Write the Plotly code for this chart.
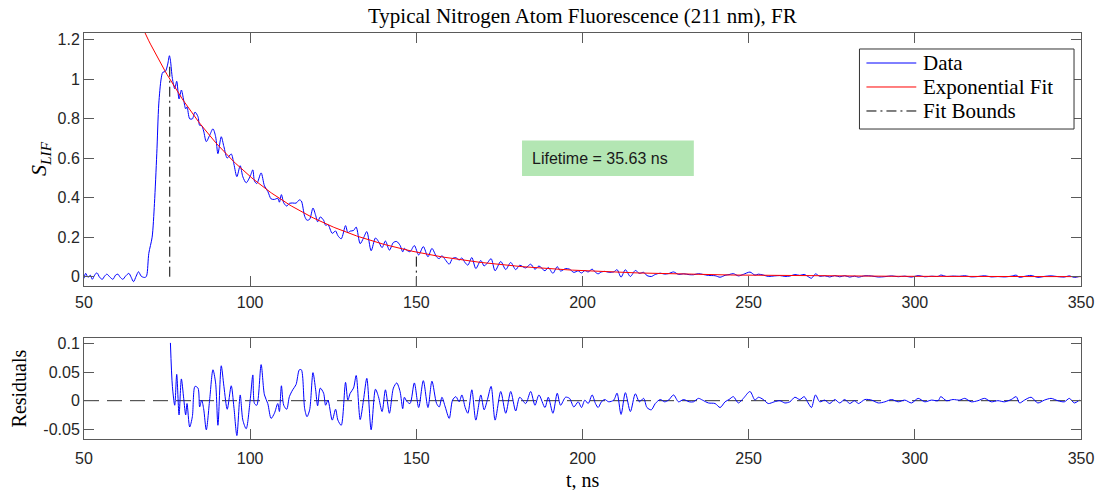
import plotly.graph_objects as go

# ---- signal before the fit window (ns, normalised LIF signal) ----
pre_t = [50.0, 50.5, 51.2, 51.9, 52.5, 53.2, 53.9, 54.7, 55.5, 56.2, 56.9, 57.7,
         58.7, 59.5, 60.2, 60.9, 61.7, 62.5, 63.5, 64.2, 64.9, 65.7, 66.4, 67.2,
         67.9, 68.5, 68.9, 69.5, 70.5, 71.2, 71.9, 72.5, 73.2, 73.7, 74.5, 75.2, 75.7]
pre_s = [-0.008, 0.017, -0.003, 0.008, -0.013, 0.008, 0.020, -0.003, -0.013, 0.003,
         0.013, 0.000, -0.013, 0.008, 0.013, -0.003, -0.013, 0.003, 0.017, -0.003,
         -0.025, 0.003, 0.025, 0.003, -0.003, -0.003, 0.008, 0.118, 0.200, 0.370,
         0.622, 0.874, 1.000, 1.034, 1.039, 1.076, 1.118]

# ---- residuals (data - fit) inside the fit window ----
res_t = [76.0, 76.6, 77.3, 77.9, 78.6, 79.3, 80.0, 80.6, 81.0, 81.8, 82.6, 83.4, 84.3,
         84.8, 85.4, 86.0, 86.8, 87.8, 88.8, 89.6, 90.3, 91.3, 92.1, 93.1, 94.3, 95.1,
         96.0, 97.0, 97.8, 98.8, 100.0, 100.8, 101.3, 102.0, 103.3, 104.3, 105.3, 106.3,
         107.3, 108.3, 108.8, 109.4, 110.1, 111.0, 111.8, 112.8, 113.8, 114.8, 115.4,
         116.4, 117.1, 117.9, 118.9, 119.7, 120.3, 121.1, 122.1, 122.7, 123.4, 124.7,
         125.7, 126.4, 127.4, 128.7, 129.4, 130.1, 131.1, 131.9, 133.1, 134.1, 135.1,
         136.4, 137.7, 138.6, 139.7, 140.7, 141.9, 143.1, 144.1, 145.1, 145.9, 146.4,
         147.1, 148.1, 149.4, 150.7, 152.1, 153.5, 154.7, 156.1, 156.9, 157.7, 158.7,
         159.9, 160.9, 161.9, 162.9, 163.7, 164.7, 165.5, 166.7, 167.9, 169.4, 170.4,
         171.4, 172.5, 173.7, 175.4, 176.9, 178.4, 179.9, 181.1, 182.9, 184.4, 185.7,
         186.9, 188.7, 189.7, 191.1, 192.4, 193.4, 194.9, 196.1, 197.4, 198.7, 199.7,
         200.7, 201.7, 202.9, 203.9, 204.7, 205.7, 206.7, 207.9, 209.4, 210.4, 211.6,
         212.9, 214.4, 215.9, 217.1, 218.4, 219.4, 220.7, 221.9, 223.4, 224.7, 225.9,
         227.4, 228.9, 230.4, 232.1, 233.4, 234.9, 236.1, 237.9, 239.9, 241.4, 242.9,
         244.1, 245.4, 246.9, 248.4, 250.4, 251.9, 252.9, 254.4, 255.9, 257.7, 259.4,
         260.9, 262.4, 263.9, 265.4, 266.7, 267.9, 268.9, 270.1, 271.4, 272.9, 274.4,
         275.9, 277.4, 278.9, 280.4, 281.9, 283.0, 285.0, 287.0, 289.0, 291.0, 293.0,
         295.0, 297.0, 299.0, 301.0, 303.0, 305.0, 307.0, 307.8, 309.5, 311.5, 313.5,
         315.0, 317.0, 319.0, 321.0, 323.0, 325.0, 327.0, 329.0, 330.5, 331.5, 333.0,
         335.0, 337.0, 339.0, 341.0, 343.0, 345.0, 346.5, 348.0, 349.5]
res_v = [0.101, 0.025, -0.008, 0.046, -0.025, 0.038, 0.004, -0.025, -0.005, -0.046,
         -0.028, 0.025, 0.022, -0.011, 0.001, -0.014, -0.051, 0.001, 0.054, 0.031,
         -0.043, 0.061, 0.025, -0.015, 0.026, -0.011, -0.061, 0.010, -0.034, -0.049,
         0.001, 0.045, -0.005, -0.008, 0.063, 0.010, -0.005, -0.031, -0.022, -0.005,
         -0.019, 0.026, -0.008, -0.015, 0.007, 0.019, 0.028, 0.054, 0.054, -0.014,
         -0.028, -0.016, 0.049, 0.019, -0.009, 0.022, 0.013, -0.008, 0.001, -0.034,
         -0.015, -0.034, -0.043, 0.032, 0.001, 0.013, 0.022, 0.044, -0.033, 0.001,
         0.039, -0.051, 0.020, 0.007, -0.019, 0.019, -0.022, 0.022, 0.031, 0.016,
         -0.014, 0.006, -0.001, -0.005, 0.031, -0.012, 0.035, -0.012, 0.034, -0.005,
         -0.011, 0.006, -0.011, -0.031, 0.001, 0.007, -0.002, 0.010, -0.012, -0.022,
         0.019, -0.034, 0.010, -0.016, 0.002, 0.025, -0.034, 0.016, -0.022, 0.016,
         -0.018, 0.006, -0.005, 0.016, -0.008, 0.010, -0.012, 0.006, -0.022, 0.013,
         -0.008, 0.006, 0.004, -0.011, -0.002, -0.012, 0.001, -0.005, 0.010, -0.005,
         -0.012, -0.002, 0.002, -0.002, 0.001, 0.013, -0.024, 0.014, -0.019, 0.012,
         -0.002, 0.004, -0.012, -0.016, -0.005, 0.002, -0.002, 0.001, 0.010, -0.002,
         0.002, -0.002, -0.002, 0.004, 0.001, -0.004, -0.005, -0.012, -0.002, 0.002,
         0.007, -0.004, 0.004, 0.016, 0.001, 0.006, 0.002, -0.005, -0.002, 0.000,
         -0.004, -0.002, 0.006, 0.002, 0.007, -0.004, -0.012, 0.010, -0.002, 0.001,
         -0.005, 0.002, -0.004, 0.002, -0.005, 0.000, -0.005, 0.002, 0.001, -0.004,
         -0.002, 0.002, -0.002, 0.001, -0.004, 0.004, -0.002, 0.001, 0.000, 0.007,
         0.000, 0.002, 0.001, 0.004, -0.002, 0.000, 0.004, -0.002, 0.000, -0.002,
         0.002, 0.007, -0.004, 0.001, 0.006, -0.004, 0.001, 0.004, 0.000, -0.002,
         0.004, -0.004, 0.001]

# ---- single-exponential fit parameters ----
fit_amplitude = 1.0      # signal at fit start
fit_t0 = 75.8            # ns, start of fit window
lifetime = 35.63         # ns
fit_t = [50 + 0.5 * i for i in range(601)]

# fit window markers: position and vertical extent
bound_t = [75.8, 150.0]
bound_lo = [0.0, -0.05]
bound_hi = [1.08, 0.12]

x_ticks = [50, 100, 150, 200, 250, 300, 350]
y_ticks = [0, 0.2, 0.4, 0.6, 0.8, 1.0, 1.2]
y_ticklabels = ["0", "0.2", "0.4", "0.6", "0.8", "1", "1.2"]
r_ticks = [-0.05, 0, 0.05, 0.1]
r_ticklabels = ["-0.05", "0", "0.05", "0.1"]

legend_labels = ["Data", "Exponential Fit", "Fit Bounds"]


def fit_value(t):
    return fit_amplitude * 2.718281828459045 ** (-(t - fit_t0) / lifetime)


fit_s = [fit_value(t) for t in fit_t]
data_t = pre_t + res_t
data_s = pre_s + [fit_value(t) + r for t, r in zip(res_t, res_v)]

SERIF = "Liberation Serif"
SANS = "Liberation Sans"
AXIS_COL = "#5a5a5a"
TEXT_COL = "#262626"
DATA_COL = "#0000ff"
FIT_COL = "#ff0000"
BOUND_DASH = "10px,4px,2px,4px"

fig = go.Figure()
fig.add_trace(go.Scatter(x=data_t, y=data_s, mode="lines", name=legend_labels[0],
                         line=dict(color=DATA_COL, width=1, shape="spline", smoothing=0.8),
                         xaxis="x", yaxis="y"))
fig.add_trace(go.Scatter(x=fit_t, y=fit_s, mode="lines", name=legend_labels[1],
                         line=dict(color=FIT_COL, width=1), xaxis="x", yaxis="y"))
for bt, lo, hi in zip(bound_t, bound_lo, bound_hi):
    fig.add_trace(go.Scatter(x=[bt, bt], y=[lo, hi], mode="lines", name=legend_labels[2],
                             line=dict(color="#000000", width=1, dash=BOUND_DASH),
                             xaxis="x", yaxis="y"))

# residual panel
fig.add_trace(go.Scatter(x=[50, 350], y=[0, 0], mode="lines",
                         line=dict(color="#333333", width=1, dash="15px,8px"),
                         xaxis="x2", yaxis="y2"))
fig.add_trace(go.Scatter(x=res_t, y=res_v, mode="lines",
                         line=dict(color=DATA_COL, width=1, shape="spline", smoothing=0.8),
                         xaxis="x2", yaxis="y2"))

axis_common = dict(showline=True, linecolor=AXIS_COL, linewidth=1, mirror="ticks",
                   ticks="inside", ticklen=10, tickcolor=AXIS_COL, showgrid=False,
                   zeroline=False, tickfont=dict(family=SANS, size=16, color=TEXT_COL))

fig.update_layout(
    width=1106, height=490,
    margin=dict(l=84, r=23, t=33, b=51),
    plot_bgcolor="white", paper_bgcolor="white",
    showlegend=False,
    xaxis=dict(domain=[0, 1], range=[50, 350], tickvals=x_ticks, anchor="y",
               ticklabelstandoff=2, **axis_common),
    yaxis=dict(domain=[0.3768, 1], range=[-0.047, 1.233], tickvals=y_ticks,
               ticktext=y_ticklabels, anchor="x", **axis_common),
    xaxis2=dict(domain=[0, 1], range=[50, 350], tickvals=x_ticks, anchor="y2",
                ticklabelstandoff=5, **axis_common),
    yaxis2=dict(domain=[0, 0.248], range=[-0.067, 0.109], tickvals=r_ticks,
                ticktext=r_ticklabels, anchor="x2", **axis_common),
)

# legend box with line samples
fig.add_shape(type="rect", xref="paper", yref="paper", x0=0.7778, x1=0.993,
              y0=0.7635, y1=0.9606, fillcolor="white",
              line=dict(color="#333333", width=1), layer="above")
legend_styles = [dict(color=DATA_COL, width=1),
                 dict(color=FIT_COL, width=1),
                 dict(color="#000000", width=1, dash=BOUND_DASH)]
legend_rows = [0.9261, 0.8670, 0.8079]
for label, style, ry in zip(legend_labels, legend_styles, legend_rows):
    fig.add_shape(type="line", xref="paper", yref="paper", x0=0.7848, x1=0.8348,
                  y0=ry, y1=ry, line=style, layer="above")
    fig.add_annotation(xref="paper", yref="paper", x=0.8398, y=ry, xanchor="left",
                       yanchor="middle", showarrow=False, text=label,
                       font=dict(family=SERIF, size=21, color="black"))

# lifetime label box
fig.add_shape(type="rect", xref="x", yref="y", x0=181.8, x1=233.5, y0=0.509, y1=0.689,
              fillcolor="#b3e6b3", line=dict(width=0), layer="above")
fig.add_annotation(xref="x", yref="y", x=184.2, y=0.599, xanchor="left", yanchor="middle",
                   text=f"Lifetime = {lifetime:.2f} ns", showarrow=False,
                   font=dict(family=SANS, size=16, color="#1a1a1a"))

# titles and axis labels
fig.add_annotation(xref="paper", yref="paper", x=0.5, y=1.042, xanchor="center",
                   yanchor="middle", showarrow=False,
                   text="Typical Nitrogen Atom Fluorescence (211 nm), FR",
                   font=dict(family=SERIF, size=21, color="black"))
fig.add_annotation(xref="paper", yref="paper", x=-0.044, y=0.69, xanchor="center",
                   yanchor="middle", showarrow=False, textangle=-90,
                   text="<i>S</i><sub><i>LIF</i></sub>",
                   font=dict(family=SERIF, size=22, color="black"))
fig.add_annotation(xref="paper", yref="paper", x=-0.065, y=0.125, xanchor="center",
                   yanchor="middle", showarrow=False, textangle=-90, text="Residuals",
                   font=dict(family=SERIF, size=20, color="black"))
fig.add_annotation(xref="paper", yref="paper", x=0.5, y=-0.1, xanchor="center",
                   yanchor="middle", showarrow=False, text="t, ns",
                   font=dict(family=SERIF, size=20, color="black"))

fig.write_html("out.html")
